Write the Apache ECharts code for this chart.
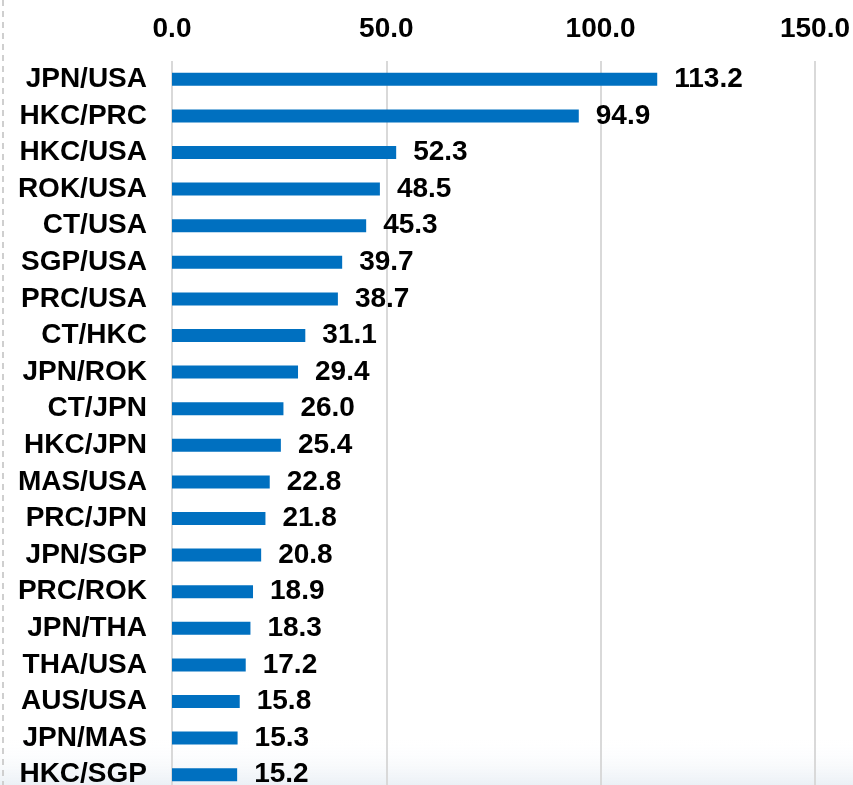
<!DOCTYPE html>
<html>
<head>
<meta charset="utf-8">
<script src="https://cdn.jsdelivr.net/npm/echarts@6/dist/echarts.min.js"></script>
<style>
  html, body { margin: 0; padding: 0; background: #fff; overflow: hidden; }
  #chart { width: 853px; height: 793px; }
</style>
</head>
<body>
<div id="chart"></div>
<script>
  // pairs, top to bottom
  var pairs = ['JPN/USA', 'HKC/PRC', 'HKC/USA', 'ROK/USA', 'CT/USA', 'SGP/USA', 'PRC/USA',
    'CT/HKC', 'JPN/ROK', 'CT/JPN', 'HKC/JPN', 'MAS/USA', 'PRC/JPN', 'JPN/SGP',
    'PRC/ROK', 'JPN/THA', 'THA/USA', 'AUS/USA', 'JPN/MAS', 'HKC/SGP']
  var values = [113.2, 94.9, 52.3, 48.5, 45.3, 39.7, 38.7, 31.1, 29.4, 26.0, 25.4,
    22.8, 21.8, 20.8, 18.9, 18.3, 17.2, 15.8, 15.3, 15.2]
  var xTicks = [0, 50, 100, 150]

  var font = '"Liberation Sans", Arial, sans-serif'
  var chart = echarts.init(document.getElementById('chart'))
  var option = {
    animation: false,
    // chart runs a little past the bottom of the window, as in the original
    grid: { left: 172, right: 36, top: 61, bottom: 0 },
    graphic: [
      {
        type: 'rect',
        z: -1,
        shape: { x: 0, y: 738, width: 853, height: 55 },
        style: {
          fill: new echarts.graphic.LinearGradient(0, 0, 0, 1, [
            { offset: 0, color: 'rgba(255,255,255,0)' },
            { offset: 1, color: '#e4ebf2' }
          ])
        }
      },
      {
        type: 'line',
        z: -1,
        shape: { x1: 3, y1: 0, x2: 3, y2: 793 },
        style: { stroke: '#cfcfcf', lineWidth: 2, lineDash: [6, 5] }
      }
    ],
    xAxis: {
      type: 'value',
      position: 'top',
      min: xTicks[0],
      max: xTicks[xTicks.length - 1],
      interval: 50,
      axisLine: { show: false },
      axisTick: { show: false },
      splitLine: { lineStyle: { color: '#d9d9d9', width: 2 } },
      axisLabel: {
        margin: 18,
        color: '#000',
        fontSize: 28,
        fontWeight: 'bold',
        fontFamily: font,
        formatter: function (v) { return v.toFixed(1) }
      }
    },
    yAxis: {
      type: 'category',
      inverse: true,
      data: pairs,
      axisLine: { show: false },
      axisTick: { show: false },
      axisLabel: {
        interval: 0,
        margin: 25,
        color: '#000',
        fontSize: 28,
        fontWeight: 'bold',
        fontFamily: font
      }
    },
    series: [
      {
        type: 'bar',
        data: values,
        barWidth: 13,
        itemStyle: { color: '#0070C0' },
        label: {
          show: true,
          position: 'right',
          distance: 17,
          color: '#000',
          fontSize: 28,
          fontWeight: 'bold',
          fontFamily: font,
          formatter: function (p) { return p.value.toFixed(1) }
        }
      }
    ]
  }
  chart.setOption(option)
</script>
</body>
</html>
